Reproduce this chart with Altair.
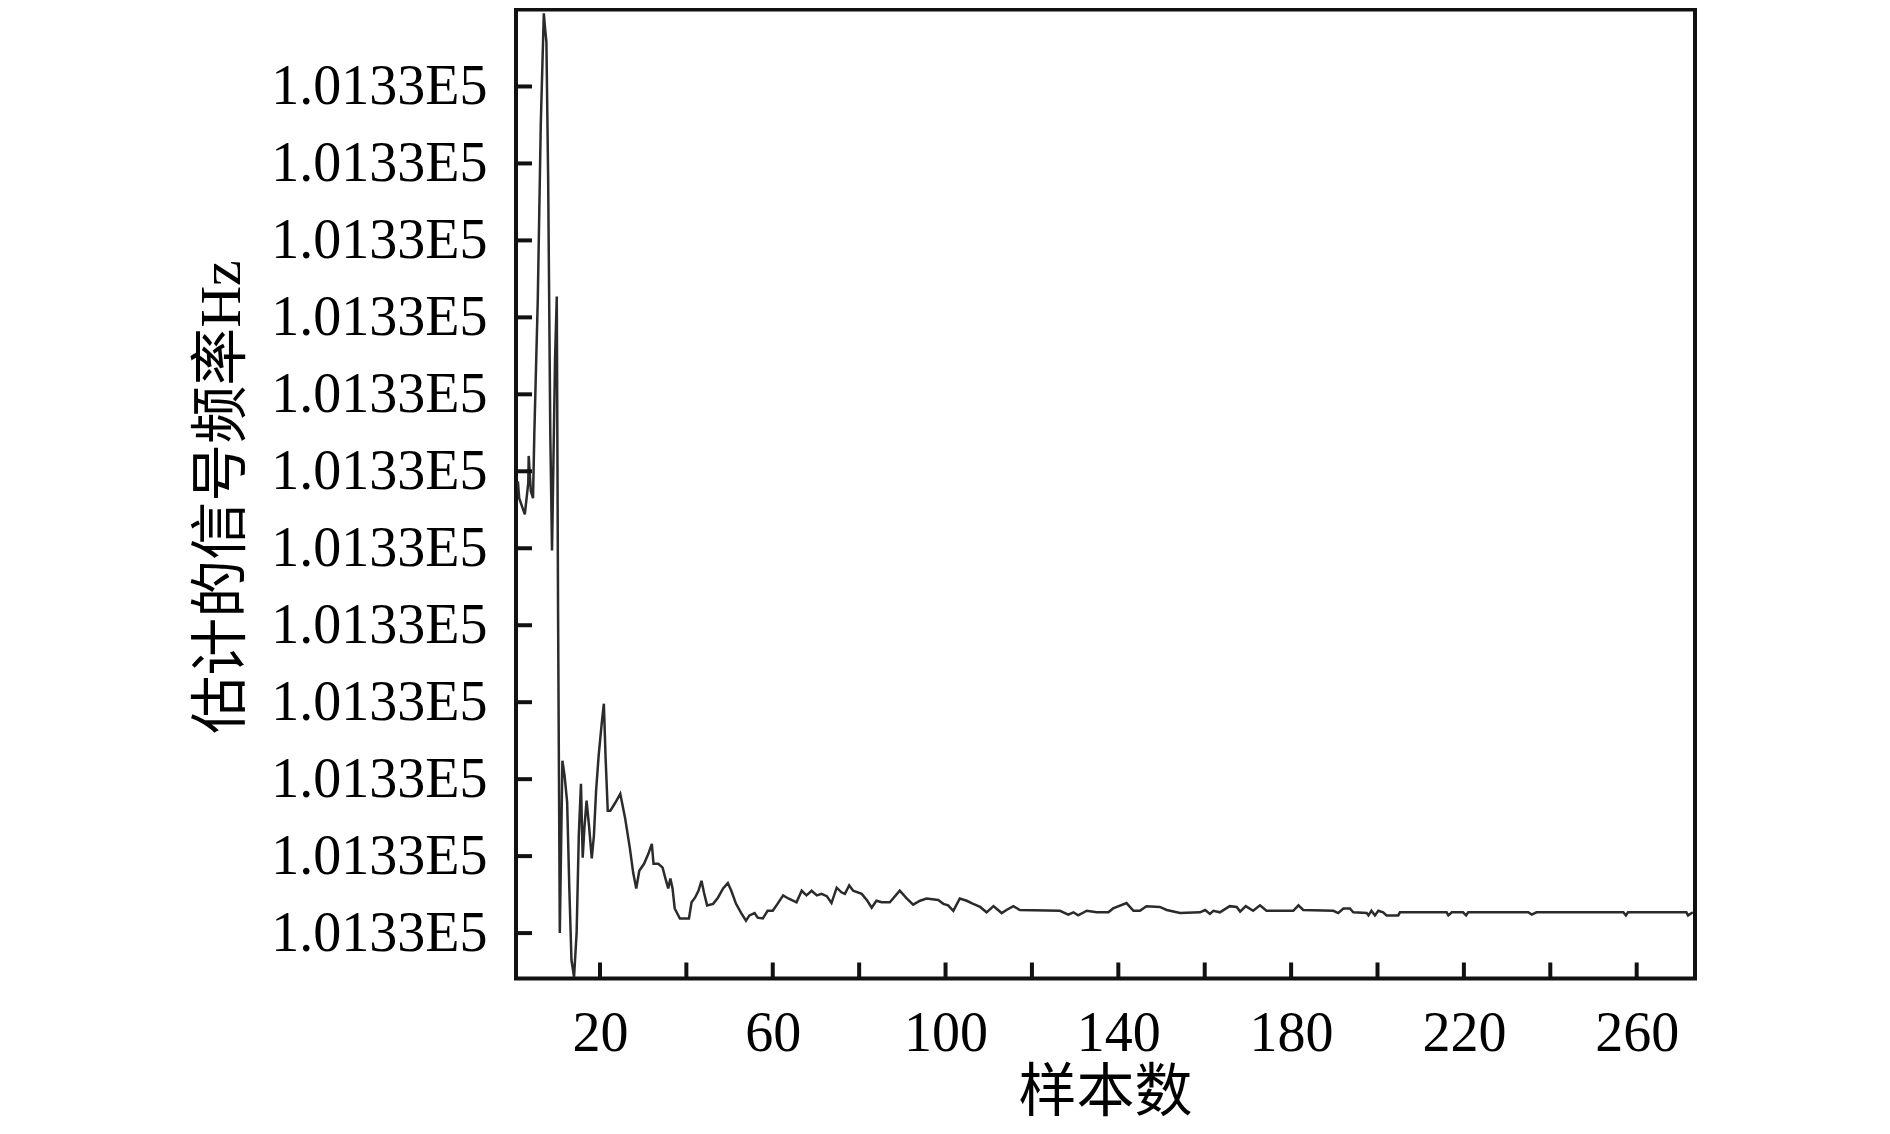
import altair as alt
import pandas as pd

# ---- data (y in tick units: 0 = lowest tick, 11 = highest) ----
sample_n = [1.0, 1.3, 2.6, 3.4, 3.5, 4.0, 4.5, 4.8, 5.6, 6.3, 7.0, 7.3, 7.6, 8.0, 8.5, 8.9,
            9.6, 10.0, 10.3, 10.7, 11.3, 11.8, 12.4, 12.9, 13.4, 14.0, 14.6, 15.1, 15.6, 16.0,
            16.4, 16.9, 17.5, 18.1, 18.6, 19.1, 19.7, 20.4, 20.9, 21.3, 21.8, 22.4, 23.5, 24.7,
            25.8, 26.9, 27.7, 28.4, 29.1, 30.2, 31.2, 32.0, 32.4, 33.5, 34.5, 35.1, 35.8, 36.3,
            36.8, 37.3, 38.5, 40.6, 41.2, 42.0, 42.8, 43.5, 44.1, 44.8, 46.2, 47.3, 48.5, 49.6,
            50.4, 51.5, 52.7, 53.8, 54.6, 55.8, 56.5, 57.7, 58.8, 60.0, 61.1, 62.4, 63.6, 65.5,
            66.7, 67.8, 69.0, 70.2, 71.3, 72.5, 73.6, 74.8, 75.9, 76.7, 77.7, 78.6, 80.6, 81.9,
            82.9, 84.0, 85.2, 87.1, 89.4, 91.0, 92.5, 94.1, 95.6, 98.3, 99.5, 100.6, 101.8, 103.3,
            104.9, 106.4, 108.0, 109.5, 111.1, 113.0, 114.1, 115.7, 117.2, 126.5, 128.4, 129.6,
            130.7, 132.7, 135.0, 137.7, 138.8, 141.9, 143.5, 145.0, 146.5, 149.6, 151.2, 154.3,
            158.9, 160.1, 161.2, 162.0, 163.5, 165.8, 167.4, 168.2, 169.5, 171.2, 172.8, 174.3,
            180.5, 181.7, 182.8, 189.8, 190.9, 192.1, 193.6, 194.4, 197.5, 197.9, 198.6, 199.4,
            200.2, 201.3, 202.1, 204.8, 205.2, 216.0, 216.4, 217.2, 219.8, 220.5, 221.0, 234.9,
            235.7, 236.8, 256.9, 257.5, 258.0, 271.5, 271.9, 273.0]
freq_est = [5.87, 5.65, 5.44, 5.85, 6.20, 5.74, 5.65, 6.48, 8.23, 10.52, 11.95, 11.75, 11.58, 9.83, 6.48, 4.97,
            7.46, 8.27, 4.15, 0.00, 2.24, 2.05, 1.70, 0.59, -0.35, -0.57, 0.01, 1.27, 1.94, 0.98,
            1.37, 1.72, 1.37, 0.97, 1.27, 1.85, 2.31, 2.72, 2.98, 2.28, 1.59, 1.59, 1.69, 1.81,
            1.50, 1.11, 0.78, 0.58, 0.81, 0.90, 1.03, 1.16, 0.90, 0.90, 0.85, 0.72, 0.58, 0.71,
            0.58, 0.32, 0.19, 0.19, 0.40, 0.46, 0.55, 0.68, 0.52, 0.36, 0.38, 0.46, 0.58, 0.65,
            0.55, 0.38, 0.26, 0.16, 0.23, 0.26, 0.20, 0.19, 0.29, 0.29, 0.38, 0.49, 0.45, 0.40,
            0.55, 0.49, 0.55, 0.49, 0.51, 0.48, 0.39, 0.59, 0.53, 0.51, 0.62, 0.55, 0.51, 0.42,
            0.33, 0.42, 0.40, 0.40, 0.55, 0.45, 0.37, 0.42, 0.45, 0.43, 0.38, 0.36, 0.29, 0.45,
            0.42, 0.38, 0.34, 0.27, 0.35, 0.26, 0.30, 0.35, 0.30, 0.29, 0.24, 0.27,
            0.23, 0.29, 0.27, 0.27, 0.32, 0.39, 0.29, 0.29, 0.35, 0.34, 0.30, 0.26,
            0.27, 0.30, 0.25, 0.29, 0.27, 0.35, 0.34, 0.28, 0.35, 0.29, 0.36, 0.29,
            0.29, 0.36, 0.30, 0.29, 0.26, 0.32, 0.32, 0.27, 0.26, 0.23, 0.29, 0.23,
            0.29, 0.27, 0.23, 0.23, 0.27, 0.27, 0.23, 0.27, 0.27, 0.23, 0.27, 0.27,
            0.24, 0.27, 0.27, 0.23, 0.27, 0.27, 0.23, 0.27]

x_ticks = [20, 40, 60, 80, 100, 120, 140, 160, 180, 200, 220, 240, 260]
y_ticks = [0, 1, 2, 3, 4, 5, 6, 7, 8, 9, 10, 11]
y_tick_text = "1.0133E5"
x_title = "样本数"
y_title = "估计的信号频率Hz"

W, H = 1179, 969
FONT = "Liberation Serif, Noto Sans CJK SC"

df = pd.DataFrame({"n": sample_n, "f": freq_est})
xt_df = pd.DataFrame({"n": x_ticks})
yt_df = pd.DataFrame({"f": y_ticks})

xscale = alt.Scale(domain=[0.56, 273.5], nice=False, zero=False)
yscale = alt.Scale(domain=[-0.59, 12.0], nice=False, zero=False)

x_axis = alt.Axis(
    values=x_ticks,
    labelExpr="(datum.value - 20) % 40 == 0 ? datum.label : ''",
    labelFont="Liberation Serif", labelFontSize=56, labelColor="#000",
    labelPadding=28, labelOverlap=False, labelFlush=False, labelLimit=0,
    ticks=False, domain=False, grid=False,
    title=x_title, titleFont=FONT, titleFontSize=58, titleFontWeight="normal",
    titleColor="#000", titleX=589, titleY=115, titleAlign="center",
    titleBaseline="middle",
)
y_axis = alt.Axis(
    values=y_ticks,
    labelExpr=f"'{y_tick_text}'",
    labelFont="Liberation Serif", labelFontSize=56, labelColor="#000",
    labelPadding=29, labelOverlap=False, labelFlush=False, labelLimit=0,
    ticks=False, domain=False, grid=False,
    title=y_title, titleFont=FONT, titleFontSize=58, titleFontWeight="normal",
    titleColor="#000", titleAngle=270, titleX=-294, titleY=487,
    titleAlign="center", titleBaseline="middle",
)

line = alt.Chart(df).mark_line(color="#2b2b2b", strokeWidth=2.5, clip=True).encode(
    x=alt.X("n:Q", scale=xscale, axis=x_axis),
    y=alt.Y("f:Q", scale=yscale, axis=y_axis),
)

xticks = alt.Chart(xt_df).mark_rule(color="#111111", strokeWidth=4).encode(
    x=alt.X("n:Q", scale=xscale),
    y=alt.value(H),
    y2=alt.value(H - 16),
)

yticks = alt.Chart(yt_df).mark_rule(color="#111111", strokeWidth=4).encode(
    y=alt.Y("f:Q", scale=yscale),
    x=alt.value(0),
    x2=alt.value(16),
)

chart = (
    alt.layer(line, xticks, yticks)
    .properties(
        width=W,
        height=H,
        autosize=alt.AutoSizeParams(type="none"),
        padding={"left": 508, "top": 1.5, "right": 170, "bottom": 147},
        background="white",
    )
    .configure_view(stroke="#111111", strokeWidth=4)
)

chart.save("out.html", embed_options={"renderer": "svg", "actions": False})
